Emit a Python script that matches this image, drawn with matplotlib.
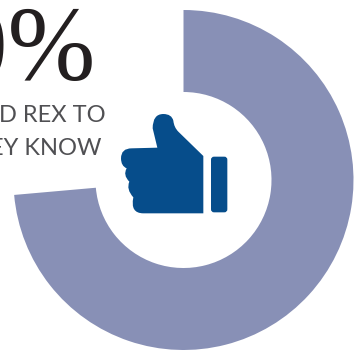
import matplotlib
matplotlib.use('Agg')
import matplotlib.pyplot as plt
from matplotlib.patches import PathPatch, FancyBboxPatch
from matplotlib.path import Path

# share of the ring
shares = [73.6, 26.4]
share_colors = ['#8890b6', 'none']
big_label = '70%'
line_labels = ['D REX TO', 'EY KNOW']

W, H = 358, 350

fig = plt.figure(figsize=(W / 100, H / 100), dpi=100)
ax = fig.add_axes([0, 0, 1, 1])

# ring, clockwise from twelve o'clock
ax.pie(shares, colors=share_colors, startangle=90, counterclock=False,
       center=(183.5, H - 180), radius=170,
       wedgeprops={'width': 82, 'linewidth': 0})

ax.set_xlim(0, W)
ax.set_ylim(0, H)
ax.set_aspect('equal')
ax.axis('off')

# big number, runs off the top left corner
ax.text(95, H - 80, big_label, family='Liberation Serif', fontsize=76,
        color='#231f20', ha='right', va='baseline')

# caption, cut off on the left
ax.text(106, H - 122, line_labels[0], family='Lato', fontsize=17,
        color='#505053', ha='right', va='baseline')
ax.text(101, H - 155, line_labels[1], family='Lato', fontsize=17,
        color='#505053', ha='right', va='baseline')

# thumbs up icon
blue = '#064d8b'


def px(x, y):
    # zoomed crop coordinates to axes coordinates
    return (110 + x / 3, H - (100 + y / 3))


C3, L = Path.CURVE3, Path.LINETO
outline = [
    (px(280, 168), Path.MOVETO), (px(205, 95), L),
    (px(192, 82), C3), (px(190, 62), C3),
    (px(185, 42), C3), (px(160, 42), C3),
    (px(128, 42), C3), (px(128, 85), C3),
    (px(142, 143), L), (px(65, 145), L),
    (px(33, 145), C3), (px(33, 175), C3),
    (px(33, 198), C3), (px(50, 205), C3),
    (px(38, 225), C3), (px(58, 245), C3),
    (px(48, 268), C3), (px(70, 292), C3),
    (px(60, 340), C3), (px(100, 340), C3),
    (px(280, 340), L), (px(280, 168), Path.CLOSEPOLY),
]
verts = [p for p, c in outline]
codes = [c for p, c in outline]
ax.add_patch(PathPatch(Path(verts, codes), facecolor=blue, edgecolor='none'))

x0, y0 = px(303, 337)
x1, y1 = px(352, 170)
ax.add_patch(FancyBboxPatch((x0 + 2, y0 + 2), x1 - x0 - 4, y1 - y0 - 4,
                            boxstyle='round,pad=2,rounding_size=3',
                            facecolor=blue, edgecolor='none'))

fig.savefig('out.png', dpi=100)
